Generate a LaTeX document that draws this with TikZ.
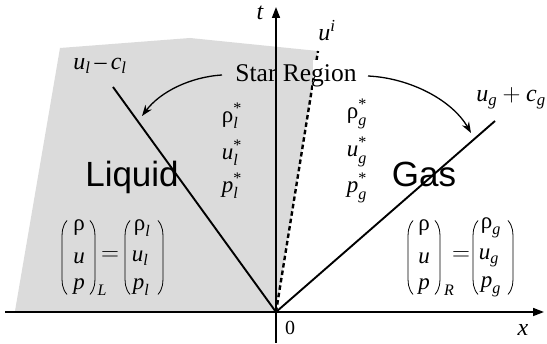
\documentclass[tikz,border=0pt]{standalone}
\usepackage{amsmath}
\usepackage{fontspec}
\setmainfont{Liberation Serif}
\newfontfamily\sansf{Liberation Sans}
\usetikzlibrary{arrows.meta}
\newcommand\vi[1]{\text{\itshape #1}}
\newcommand\stsym{\text{*}}
\begin{document}
\begin{tikzpicture}[x=1pt,y=-1pt,
  axisline/.style={line width=1.6pt,-{Triangle[length=11pt,width=8pt]}},
  waveline/.style={line width=1.9pt},
  contactline/.style={line width=2.4pt,dash pattern=on 4.5pt off 3pt},
  curvearrow/.style={line width=1.3pt,-{Stealth[length=11pt,width=8pt]}},
  parline/.style={line width=0.8pt},
  lbl/.style={inner sep=0pt,font=\fontsize{24}{28}\selectfont},
  starlbl/.style={inner sep=0pt,font=\fontsize{23}{27}\selectfont},
  ent/.style={inner sep=0pt,font=\fontsize{23}{27}\selectfont},
  bigword/.style={inner sep=0pt,font=\sansf\fontsize{35}{40}\selectfont},
  lp/.pic={\draw[parline] (5,-37) .. controls (0,-31) and (0,-26) .. (0,-16) -- (0,16) .. controls (0,26) and (0,31) .. (5,37);},
  rp/.pic={\draw[parline] (-5,-37) .. controls (0,-31) and (0,-26) .. (0,-16) -- (0,16) .. controls (0,26) and (0,31) .. (-5,37);}
]
\useasboundingbox (0,0) rectangle (547,344);
% coordinates
\coordinate (O) at (276,312);
\coordinate (xs) at (5,312);
\coordinate (xe) at (544,312);
\coordinate (ts) at (276,343);
\coordinate (te) at (276,7);
\coordinate (L) at (113,87);
\coordinate (R) at (495,121);
\coordinate (C) at (318,51);
% gray liquid region
\fill[gray!28] (15,311) -- (60,48) -- (190,38) -- (C) -- (O) -- cycle;
% waves
\draw[contactline] (O) -- (C);
\draw[waveline] (L) -- (O) -- (R);
% axes
\draw[axisline] (xs) -- (xe);
\draw[axisline] (ts) -- (te);
% white patch behind Region
\fill[white] (313,60) rectangle (322,92);
% Star region
\node[inner sep=0pt,font=\fontsize{25.5}{30}\selectfont,anchor=base] (sr) at (296,82) {Star Region};
\draw[curvearrow] (222,75) .. controls (190,77) and (160,92) .. (142,116);
\draw[curvearrow] (368,76) .. controls (410,78) and (452,100) .. (471,133);
% labels
\node[lbl,anchor=base] (tl) at (260,20) {$\vi{t}$};
\node[lbl,anchor=base] (xl) at (523,336) {$\vi{x}$};
\node[inner sep=0pt,font=\fontsize{20}{24}\selectfont,anchor=base] (zl) at (290,335) {0};
\node[lbl,anchor=base] (ui) at (327,41) {$\vi{u}^{\vi{i}}$};
\node[lbl,anchor=base] (ulcl) at (100,70) {$\vi{u}_{\vi{l}}\,\text{–}\,\vi{c}_{\vi{l}}$};
\node[lbl,anchor=base] (ugcg) at (511,102) {$\vi{u}_{\vi{g}}+\vi{c}_{\vi{g}}$};
% star states
\node[starlbl] (rls) at (232,116) {$\text{ρ}^{\stsym}_{\vi{l}}$};
\node[starlbl] (uls) at (232,153) {$\vi{u}^{\stsym}_{\vi{l}}$};
\node[starlbl] (pls) at (232,186) {$\vi{p}^{\stsym}_{\vi{l}}$};
\node[starlbl] (rgs) at (357,114) {$\text{ρ}^{\stsym}_{\vi{g}}$};
\node[starlbl] (ugs) at (357,152) {$\vi{u}^{\stsym}_{\vi{g}}$};
\node[starlbl] (pgs) at (357,188) {$\vi{p}^{\stsym}_{\vi{g}}$};
% big words
\node[bigword,anchor=base] (liq) at (132,187) {Liquid};
\node[bigword,anchor=base] (gas) at (424,187) {Gas};
% left state vector
\pic at (62,257.5) {lp};
\pic at (95,257.5) {rp};
\node[ent] (lr) at (79,228) {ρ};
\node[ent] (lu) at (79,258) {$\vi{u}$};
\node[ent] (lpp) at (79,287) {$\vi{p}$};
\node[inner sep=0pt,font=\fontsize{16}{18}\selectfont] (lL) at (102,290) {$\vi{L}$};
\node[ent] (leq) at (110,256) {$=$};
\pic at (125,257.5) {lp};
\pic at (163,257.5) {rp};
\node[ent] (lr2) at (142,228) {$\text{ρ}_{\vi{l}}$};
\node[ent] (lu2) at (140,258) {$\vi{u}_{\vi{l}}$};
\node[ent] (lp2) at (141,287) {$\vi{p}_{\vi{l}}$};
% right state vector
\pic at (408,257.5) {lp};
\pic at (440,257.5) {rp};
\node[ent] (rr) at (424,228) {ρ};
\node[ent] (ru) at (424,258) {$\vi{u}$};
\node[ent] (rpp) at (424,287) {$\vi{p}$};
\node[inner sep=0pt,font=\fontsize{16}{18}\selectfont] (rR) at (449,290) {$\vi{R}$};
\node[ent] (req) at (461,256) {$=$};
\pic at (473,257.5) {lp};
\pic at (513,257.5) {rp};
\node[ent] (rr2) at (491,228) {$\text{ρ}_{\vi{g}}$};
\node[ent] (ru2) at (489,258) {$\vi{u}_{\vi{g}}$};
\node[ent] (rp2) at (491,287) {$\vi{p}_{\vi{g}}$};
\end{tikzpicture}
\end{document}
